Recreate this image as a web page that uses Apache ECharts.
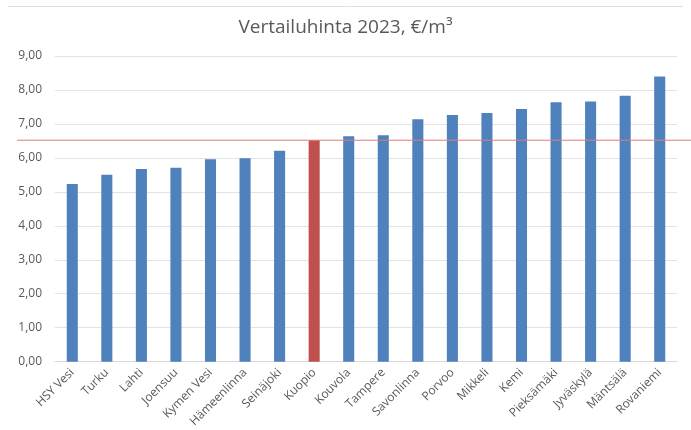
<!DOCTYPE html>
<html>
<head>
<meta charset="utf-8">
<script src="https://cdn.jsdelivr.net/npm/echarts@6/dist/echarts.min.js"></script>
<style>
    html, body { margin: 0; padding: 0; background: #fff; }
    #main { width: 691px; height: 430px; }
</style>
</head>
<body>
<div id="main"></div>
<script>
// kaupungit ja vertailuhinnat
const cities = ['HSY Vesi', 'Turku', 'Lahti', 'Joensuu', 'Kymen Vesi', 'Hämeenlinna', 'Seinäjoki', 'Kuopio',
    'Kouvola', 'Tampere', 'Savonlinna', 'Porvoo', 'Mikkeli', 'Kemi', 'Pieksämäki', 'Jyväskylä', 'Mäntsälä', 'Rovaniemi']
const prices = [5.23, 5.50, 5.67, 5.71, 5.96, 5.99, 6.21, 6.52,
    6.64, 6.67, 7.14, 7.26, 7.32, 7.44, 7.64, 7.66, 7.83, 8.40]
const highlight = 'Kuopio'
const refLine = 6.52

const chart = echarts.init(document.getElementById('main'))
const font = '"Open Sans", "Liberation Sans", sans-serif'

const option = {
    animation: false,
    title: {
        text: 'Vertailuhinta 2023, €/m³',
        left: 'center',
        top: 13,
        textStyle: {
            fontFamily: font,
            fontSize: 19,
            fontWeight: 'normal',
            color: '#595959'
        }
    },
    grid: {
        left: 55,
        right: 14,
        top: 56,
        bottom: 66
    },
    xAxis: {
        type: 'category',
        data: cities,
        axisTick: {show: false},
        axisLine: {lineStyle: {color: '#d9d9d9'}},
        axisLabel: {
            rotate: 45,
            interval: 0,
            fontFamily: font,
            fontSize: 12,
            color: '#595959',
            margin: 9
        }
    },
    yAxis: {
        type: 'value',
        min: 0,
        max: 9,
        interval: 1,
        axisLine: {show: false},
        axisTick: {show: false},
        splitLine: {lineStyle: {color: '#e3e3e3'}},
        axisLabel: {
            fontFamily: font,
            fontSize: 12,
            color: '#595959',
            margin: 13,
            formatter: v => v.toFixed(2).replace('.', ',')
        }
    },
    series: [{
        type: 'bar',
        barWidth: '32%',
        data: prices.map((v, i) => ({
            value: v,
            itemStyle: {color: cities[i] === highlight ? '#c0504d' : '#4f81bd'}
        }))
    }]
}
chart.setOption(option)

// vertailuviiva koko leveydeltä
const yLine = chart.convertToPixel({yAxisIndex: 0}, refLine)
chart.setOption({
    graphic: [
        {
            type: 'line',
            shape: {x1: 8, y1: 6.5, x2: 683, y2: 6.5},
            style: {stroke: '#e0e0e0', lineWidth: 1}
        },
        {
            type: 'line',
            z: 10,
            shape: {x1: 17, y1: yLine, x2: 691, y2: yLine},
            style: {stroke: '#e07b78', lineWidth: 1}
        }
    ]
})
</script>
</body>
</html>
